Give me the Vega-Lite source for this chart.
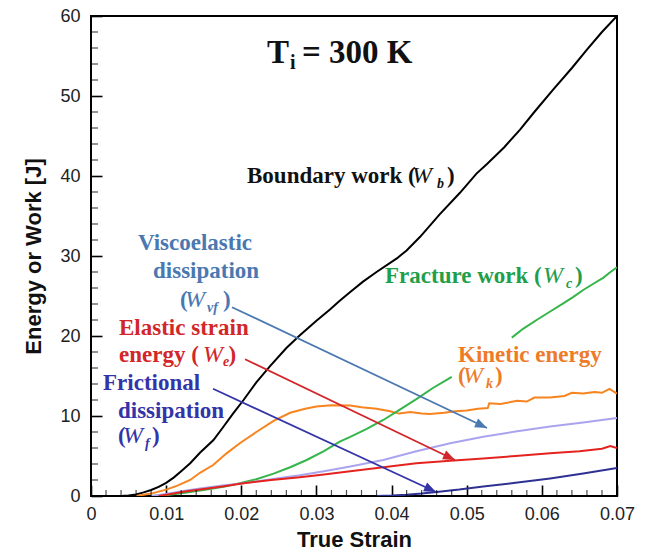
{
  "$schema": "https://vega.github.io/schema/vega-lite/v6.json",
  "width": 526,
  "height": 480,
  "autosize": {"type": "none"},
  "padding": {"left": 91, "top": 16, "right": 30, "bottom": 62},
  "config": {
    "view": {"stroke": "#000000", "strokeWidth": 2},
    "axis": {"grid": false, "domain": false, "labelFont": "Liberation Sans", "labelFontSize": 18, "labelColor": "#222222", "titleFont": "Liberation Sans", "titleFontSize": 22, "titleFontWeight": "bold", "titleColor": "#111111", "tickColor": "#000000"}
  },
  "datasets": {
    "curves": [
      {"series":"Wb","seg":1,"strain":0.004,"energy":0},{"series":"Wb","seg":1,"strain":0.005,"energy":0.05},{"series":"Wb","seg":1,"strain":0.006,"energy":0.2},{"series":"Wb","seg":1,"strain":0.007,"energy":0.45},{"series":"Wb","seg":1,"strain":0.008,"energy":0.75},{"series":"Wb","seg":1,"strain":0.009,"energy":1.15},{"series":"Wb","seg":1,"strain":0.01,"energy":1.65},{"series":"Wb","seg":1,"strain":0.011,"energy":2.3},{"series":"Wb","seg":1,"strain":0.012,"energy":3.1},{"series":"Wb","seg":1,"strain":0.0132,"energy":4.1},{"series":"Wb","seg":1,"strain":0.0145,"energy":5.4},{"series":"Wb","seg":1,"strain":0.0163,"energy":7.0},{"series":"Wb","seg":1,"strain":0.0175,"energy":8.5},{"series":"Wb","seg":1,"strain":0.0189,"energy":10.3},{"series":"Wb","seg":1,"strain":0.0203,"energy":12.0},{"series":"Wb","seg":1,"strain":0.022,"energy":14.2},{"series":"Wb","seg":1,"strain":0.0238,"energy":16.2},{"series":"Wb","seg":1,"strain":0.026,"energy":18.5},{"series":"Wb","seg":1,"strain":0.0278,"energy":20.1},{"series":"Wb","seg":1,"strain":0.03,"energy":21.9},{"series":"Wb","seg":1,"strain":0.0318,"energy":23.3},{"series":"Wb","seg":1,"strain":0.0331,"energy":24.4},{"series":"Wb","seg":1,"strain":0.0345,"energy":25.5},{"series":"Wb","seg":1,"strain":0.0362,"energy":26.8},{"series":"Wb","seg":1,"strain":0.038,"energy":28.0},{"series":"Wb","seg":1,"strain":0.0407,"energy":29.7},{"series":"Wb","seg":1,"strain":0.042,"energy":30.7},{"series":"Wb","seg":1,"strain":0.0438,"energy":32.4},{"series":"Wb","seg":1,"strain":0.0464,"energy":35.2},{"series":"Wb","seg":1,"strain":0.0491,"energy":37.9},{"series":"Wb","seg":1,"strain":0.0513,"energy":40.3},{"series":"Wb","seg":1,"strain":0.0527,"energy":41.5},{"series":"Wb","seg":1,"strain":0.055,"energy":43.6},{"series":"Wb","seg":1,"strain":0.0571,"energy":45.8},{"series":"Wb","seg":1,"strain":0.059,"energy":48.0},{"series":"Wb","seg":1,"strain":0.0615,"energy":50.8},{"series":"Wb","seg":1,"strain":0.064,"energy":53.5},{"series":"Wb","seg":1,"strain":0.066,"energy":55.8},{"series":"Wb","seg":1,"strain":0.068,"energy":58.0},{"series":"Wb","seg":1,"strain":0.07,"energy":60.0},

      {"series":"Wk","seg":1,"strain":0.006,"energy":0},{"series":"Wk","seg":1,"strain":0.008,"energy":0.3},{"series":"Wk","seg":1,"strain":0.01,"energy":0.8},{"series":"Wk","seg":1,"strain":0.0115,"energy":1.3},{"series":"Wk","seg":1,"strain":0.0132,"energy":2.0},{"series":"Wk","seg":1,"strain":0.0145,"energy":2.9},{"series":"Wk","seg":1,"strain":0.0163,"energy":3.9},{"series":"Wk","seg":1,"strain":0.018,"energy":5.3},{"series":"Wk","seg":1,"strain":0.0198,"energy":6.6},{"series":"Wk","seg":1,"strain":0.022,"energy":8.0},{"series":"Wk","seg":1,"strain":0.0243,"energy":9.4},{"series":"Wk","seg":1,"strain":0.0265,"energy":10.4},{"series":"Wk","seg":1,"strain":0.0285,"energy":10.9},{"series":"Wk","seg":1,"strain":0.03,"energy":11.2},{"series":"Wk","seg":1,"strain":0.032,"energy":11.35},{"series":"Wk","seg":1,"strain":0.0345,"energy":11.3},{"series":"Wk","seg":1,"strain":0.036,"energy":11.1},{"series":"Wk","seg":1,"strain":0.038,"energy":10.9},{"series":"Wk","seg":1,"strain":0.0398,"energy":10.6},{"series":"Wk","seg":1,"strain":0.041,"energy":10.3},{"series":"Wk","seg":1,"strain":0.0425,"energy":10.5},{"series":"Wk","seg":1,"strain":0.044,"energy":10.3},{"series":"Wk","seg":1,"strain":0.0451,"energy":10.25},{"series":"Wk","seg":1,"strain":0.047,"energy":10.4},{"series":"Wk","seg":1,"strain":0.0485,"energy":10.6},{"series":"Wk","seg":1,"strain":0.05,"energy":10.7},{"series":"Wk","seg":1,"strain":0.0515,"energy":10.9},{"series":"Wk","seg":1,"strain":0.0528,"energy":11.0},{"series":"Wk","seg":1,"strain":0.053,"energy":11.6},{"series":"Wk","seg":1,"strain":0.0545,"energy":11.5},{"series":"Wk","seg":1,"strain":0.0567,"energy":11.9},{"series":"Wk","seg":1,"strain":0.058,"energy":11.8},{"series":"Wk","seg":1,"strain":0.059,"energy":12.3},{"series":"Wk","seg":1,"strain":0.0611,"energy":12.3},{"series":"Wk","seg":1,"strain":0.063,"energy":12.5},{"series":"Wk","seg":1,"strain":0.064,"energy":12.9},{"series":"Wk","seg":1,"strain":0.0655,"energy":12.8},{"series":"Wk","seg":1,"strain":0.067,"energy":13.0},{"series":"Wk","seg":1,"strain":0.068,"energy":12.9},{"series":"Wk","seg":1,"strain":0.069,"energy":13.4},{"series":"Wk","seg":1,"strain":0.07,"energy":12.8},

      {"series":"Wc","seg":1,"strain":0.008,"energy":0},{"series":"Wc","seg":1,"strain":0.01,"energy":0.1},{"series":"Wc","seg":1,"strain":0.0125,"energy":0.4},{"series":"Wc","seg":1,"strain":0.0154,"energy":0.8},{"series":"Wc","seg":1,"strain":0.0178,"energy":1.2},{"series":"Wc","seg":1,"strain":0.0198,"energy":1.6},{"series":"Wc","seg":1,"strain":0.022,"energy":2.1},{"series":"Wc","seg":1,"strain":0.0243,"energy":2.8},{"series":"Wc","seg":1,"strain":0.0265,"energy":3.6},{"series":"Wc","seg":1,"strain":0.0287,"energy":4.5},{"series":"Wc","seg":1,"strain":0.031,"energy":5.6},{"series":"Wc","seg":1,"strain":0.0331,"energy":6.8},{"series":"Wc","seg":1,"strain":0.0345,"energy":7.4},{"series":"Wc","seg":1,"strain":0.0367,"energy":8.4},{"series":"Wc","seg":1,"strain":0.0389,"energy":9.5},{"series":"Wc","seg":1,"strain":0.0411,"energy":10.8},{"series":"Wc","seg":1,"strain":0.0433,"energy":12.1},{"series":"Wc","seg":1,"strain":0.0455,"energy":13.5},{"series":"Wc","seg":1,"strain":0.0475,"energy":14.6},{"series":"Wc","seg":1,"strain":0.048,"energy":14.9},
      {"series":"Wc","seg":2,"strain":0.056,"energy":19.8},{"series":"Wc","seg":2,"strain":0.0575,"energy":20.9},{"series":"Wc","seg":2,"strain":0.0593,"energy":22.0},{"series":"Wc","seg":2,"strain":0.061,"energy":23.0},{"series":"Wc","seg":2,"strain":0.0629,"energy":24.1},{"series":"Wc","seg":2,"strain":0.0642,"energy":24.9},{"series":"Wc","seg":2,"strain":0.0655,"energy":25.75},{"series":"Wc","seg":2,"strain":0.0668,"energy":26.5},{"series":"Wc","seg":2,"strain":0.0682,"energy":27.3},{"series":"Wc","seg":2,"strain":0.069,"energy":27.9},{"series":"Wc","seg":2,"strain":0.07,"energy":28.6},

      {"series":"Wvf","seg":1,"strain":0.008,"energy":0},{"series":"Wvf","seg":1,"strain":0.01,"energy":0.25},{"series":"Wvf","seg":1,"strain":0.0125,"energy":0.65},{"series":"Wvf","seg":1,"strain":0.0145,"energy":0.95},{"series":"Wvf","seg":1,"strain":0.0175,"energy":1.3},{"series":"Wvf","seg":1,"strain":0.0203,"energy":1.6},{"series":"Wvf","seg":1,"strain":0.024,"energy":2.1},{"series":"Wvf","seg":1,"strain":0.0278,"energy":2.6},{"series":"Wvf","seg":1,"strain":0.031,"energy":3.1},{"series":"Wvf","seg":1,"strain":0.0345,"energy":3.7},{"series":"Wvf","seg":1,"strain":0.0389,"energy":4.5},{"series":"Wvf","seg":1,"strain":0.0433,"energy":5.6},{"series":"Wvf","seg":1,"strain":0.0478,"energy":6.6},{"series":"Wvf","seg":1,"strain":0.0522,"energy":7.4},{"series":"Wvf","seg":1,"strain":0.0565,"energy":8.05},{"series":"Wvf","seg":1,"strain":0.0611,"energy":8.7},{"series":"Wvf","seg":1,"strain":0.0655,"energy":9.2},{"series":"Wvf","seg":1,"strain":0.07,"energy":9.75},

      {"series":"We","seg":1,"strain":0.009,"energy":0},{"series":"We","seg":1,"strain":0.011,"energy":0.3},{"series":"We","seg":1,"strain":0.0125,"energy":0.55},{"series":"We","seg":1,"strain":0.0145,"energy":0.8},{"series":"We","seg":1,"strain":0.0175,"energy":1.2},{"series":"We","seg":1,"strain":0.0203,"energy":1.6},{"series":"We","seg":1,"strain":0.024,"energy":2.0},{"series":"We","seg":1,"strain":0.0278,"energy":2.35},{"series":"We","seg":1,"strain":0.031,"energy":2.7},{"series":"We","seg":1,"strain":0.0345,"energy":3.1},{"series":"We","seg":1,"strain":0.0389,"energy":3.6},{"series":"We","seg":1,"strain":0.0433,"energy":4.1},{"series":"We","seg":1,"strain":0.0478,"energy":4.4},{"series":"We","seg":1,"strain":0.0522,"energy":4.7},{"series":"We","seg":1,"strain":0.0565,"energy":5.0},{"series":"We","seg":1,"strain":0.0611,"energy":5.35},{"series":"We","seg":1,"strain":0.065,"energy":5.6},{"series":"We","seg":1,"strain":0.068,"energy":5.9},{"series":"We","seg":1,"strain":0.0691,"energy":6.25},{"series":"We","seg":1,"strain":0.07,"energy":6.0},

      {"series":"Wf","seg":1,"strain":0.038,"energy":0},{"series":"Wf","seg":1,"strain":0.04,"energy":0.05},{"series":"Wf","seg":1,"strain":0.042,"energy":0.15},{"series":"Wf","seg":1,"strain":0.044,"energy":0.3},{"series":"Wf","seg":1,"strain":0.046,"energy":0.5},{"series":"Wf","seg":1,"strain":0.049,"energy":0.8},{"series":"Wf","seg":1,"strain":0.0522,"energy":1.2},{"series":"Wf","seg":1,"strain":0.0565,"energy":1.65},{"series":"Wf","seg":1,"strain":0.0611,"energy":2.2},{"series":"Wf","seg":1,"strain":0.0655,"energy":2.8},{"series":"Wf","seg":1,"strain":0.07,"energy":3.5}
    ],
    "xminor": [
      {"v":0.002},{"v":0.004},{"v":0.006},{"v":0.008},{"v":0.012},{"v":0.014},{"v":0.016},{"v":0.018},{"v":0.022},{"v":0.024},{"v":0.026},{"v":0.028},{"v":0.032},{"v":0.034},{"v":0.036},{"v":0.038},{"v":0.042},{"v":0.044},{"v":0.046},{"v":0.048},{"v":0.052},{"v":0.054},{"v":0.056},{"v":0.058},{"v":0.062},{"v":0.064},{"v":0.066},{"v":0.068}
    ],
    "yminor": [
      {"v":2},{"v":4},{"v":6},{"v":8},{"v":12},{"v":14},{"v":16},{"v":18},{"v":22},{"v":24},{"v":26},{"v":28},{"v":32},{"v":34},{"v":36},{"v":38},{"v":42},{"v":44},{"v":46},{"v":48},{"v":52},{"v":54},{"v":56},{"v":58}
    ],
    "arrows": [
      {"key":"Lvf","x":0.01877,"y":23.6,"x2":0.0527,"y2":8.5},
      {"key":"Le","x":0.0205,"y":17.1,"x2":0.04844,"y2":4.5},
      {"key":"Lf","x":0.01624,"y":13.4,"x2":0.04591,"y2":0.5}
    ],
    "big": [
      {"key":"T","text":"T","x":0.02342,"y":54.125},
      {"key":"T","text":"= 300 K","x":0.02808,"y":54.125}
    ],
    "bigsub": [
      {"key":"T","text":"i","x":0.02648,"y":53.375}
    ],
    "labels": [
      {"key":"Lb","text":"Boundary work (","x":0.02076,"y":39.125},
      {"key":"Lb","text":")","x":0.04738,"y":39.125},
      {"key":"Lc","text":"Fracture work (","x":0.03913,"y":26.625},
      {"key":"Lc","text":")","x":0.06441,"y":26.625},
      {"key":"Lk","text":"Kinetic energy","x":0.04884,"y":16.75},
      {"key":"Lk","text":"(","x":0.04884,"y":14.125},
      {"key":"Lk","text":")","x":0.05377,"y":14.125},
      {"key":"Lvf","text":"Viscoelastic","x":0.00625,"y":30.75},
      {"key":"Lvf","text":"dissipation","x":0.00825,"y":27.25},
      {"key":"Lvf","text":"(","x":0.01184,"y":23.625},
      {"key":"Lvf","text":")","x":0.01757,"y":23.625},
      {"key":"Le","text":"Elastic strain","x":0.00373,"y":20.125},
      {"key":"Le","text":"energy (","x":0.00373,"y":16.75},
      {"key":"Le","text":")","x":0.0183,"y":16.75},
      {"key":"Lf","text":"Frictional","x":0.0016,"y":13.25},
      {"key":"Lf","text":"dissipation","x":0.00359,"y":9.75},
      {"key":"Lf","text":"(","x":0.00359,"y":6.625},
      {"key":"Lf","text":")","x":0.00812,"y":6.625}
    ],
    "wsym": [
      {"key":"Lb","text":"W","x":0.04272,"y":39.125},
      {"key":"Lc","text":"W","x":0.06015,"y":26.625},
      {"key":"Lk","text":"W","x":0.0495,"y":14.125},
      {"key":"Lvf","text":"W","x":0.01251,"y":23.625},
      {"key":"Le","text":"W","x":0.0149,"y":16.75},
      {"key":"Lf","text":"W","x":0.00425,"y":6.625}
    ],
    "subs": [
      {"key":"Lb","text":"b","x":0.04604,"y":38.5},
      {"key":"Lc","text":"c","x":0.06321,"y":26.0},
      {"key":"Lk","text":"k","x":0.05256,"y":13.5},
      {"key":"Lvf","text":"vf","x":0.01543,"y":23.0},
      {"key":"Le","text":"e","x":0.01756,"y":16.25},
      {"key":"Lf","text":"f","x":0.00718,"y":6.0}
    ]
  },
  "layer": [
    {
      "data": {"name": "curves"},
      "mark": {"type": "line", "strokeWidth": 2, "clip": true},
      "encoding": {
        "x": {"field": "strain", "type": "quantitative", "scale": {"domain": [0, 0.07], "nice": false, "zero": false},
              "axis": {"orient": "bottom", "title": "True Strain", "values": [0, 0.01, 0.02, 0.03, 0.04, 0.05, 0.06, 0.07], "format": ".2~f", "ticks": true, "tickSize": -11, "tickWidth": 1.6, "labelPadding": 20, "titlePadding": 6, "labelFlush": false}},
        "y": {"field": "energy", "type": "quantitative", "scale": {"domain": [0, 60], "nice": false, "zero": false},
              "axis": {"orient": "left", "title": "Energy or Work [J]", "values": [0, 10, 20, 30, 40, 50, 60], "format": "d", "ticks": true, "tickSize": -11, "tickWidth": 1.6, "labelPadding": 22, "titlePadding": 14, "labelFlush": false}},
        "color": {"field": "series", "type": "nominal", "legend": null,
          "scale": {"domain": ["Wb", "Wc", "Wk", "Wvf", "We", "Wf", "Lb", "Lc", "Lk", "Lvf", "Le", "Lf", "T"],
                    "range": ["#000000", "#35b54a", "#f7841f", "#aaa4ef", "#e4231f", "#2e3192", "#111111", "#1f9e4b", "#ee7b27", "#4a78b0", "#d2262a", "#3434a8", "#111111"]}},
        "detail": {"field": "seg", "type": "nominal"}
      }
    },
    {
      "data": {"name": "xminor"},
      "mark": {"type": "tick", "orient": "vertical", "size": 12, "thickness": 1.2, "color": "#000000", "clip": true},
      "encoding": {
        "x": {"field": "v", "type": "quantitative"},
        "y": {"datum": 0, "type": "quantitative"}
      }
    },
    {
      "data": {"name": "yminor"},
      "mark": {"type": "tick", "orient": "horizontal", "size": 14, "thickness": 1.2, "color": "#000000", "clip": true},
      "encoding": {
        "y": {"field": "v", "type": "quantitative"},
        "x": {"datum": 0, "type": "quantitative"}
      }
    },
    {
      "data": {"name": "arrows"},
      "mark": {"type": "rule", "strokeWidth": 1.8},
      "encoding": {
        "x": {"field": "x", "type": "quantitative"},
        "y": {"field": "y", "type": "quantitative"},
        "x2": {"field": "x2"},
        "y2": {"field": "y2"},
        "color": {"field": "key", "type": "nominal", "legend": null}
      }
    },
    {
      "data": {"name": "arrows"},
      "mark": {"type": "point", "shape": "M0,0L-2.4,-0.95L-2.4,0.95Z", "size": 100, "filled": true, "opacity": 1, "angle": 25},
      "encoding": {
        "x": {"field": "x2", "type": "quantitative"},
        "y": {"field": "y2", "type": "quantitative"},
        "color": {"field": "key", "type": "nominal", "legend": null}
      }
    },
    {
      "data": {"name": "big"},
      "mark": {"type": "text", "font": "Liberation Serif", "fontWeight": "bold", "fontSize": 33, "align": "left", "baseline": "alphabetic"},
      "encoding": {
        "x": {"field": "x", "type": "quantitative"},
        "y": {"field": "y", "type": "quantitative"},
        "text": {"field": "text"},
        "color": {"field": "key", "type": "nominal", "legend": null}
      }
    },
    {
      "data": {"name": "bigsub"},
      "mark": {"type": "text", "font": "Liberation Serif", "fontWeight": "bold", "fontSize": 20, "align": "left", "baseline": "alphabetic"},
      "encoding": {
        "x": {"field": "x", "type": "quantitative"},
        "y": {"field": "y", "type": "quantitative"},
        "text": {"field": "text"},
        "color": {"field": "key", "type": "nominal", "legend": null}
      }
    },
    {
      "data": {"name": "labels"},
      "mark": {"type": "text", "font": "Liberation Serif", "fontWeight": "bold", "fontSize": 23, "align": "left", "baseline": "alphabetic"},
      "encoding": {
        "x": {"field": "x", "type": "quantitative"},
        "y": {"field": "y", "type": "quantitative"},
        "text": {"field": "text"},
        "color": {"field": "key", "type": "nominal", "legend": null}
      }
    },
    {
      "data": {"name": "wsym"},
      "mark": {"type": "text", "font": "Liberation Serif", "fontStyle": "italic", "fontSize": 24, "align": "left", "baseline": "alphabetic"},
      "encoding": {
        "x": {"field": "x", "type": "quantitative"},
        "y": {"field": "y", "type": "quantitative"},
        "text": {"field": "text"},
        "color": {"field": "key", "type": "nominal", "legend": null}
      }
    },
    {
      "data": {"name": "subs"},
      "mark": {"type": "text", "font": "Liberation Serif", "fontStyle": "italic", "fontWeight": "bold", "fontSize": 14, "align": "left", "baseline": "alphabetic"},
      "encoding": {
        "x": {"field": "x", "type": "quantitative"},
        "y": {"field": "y", "type": "quantitative"},
        "text": {"field": "text"},
        "color": {"field": "key", "type": "nominal", "legend": null}
      }
    }
  ]
}
